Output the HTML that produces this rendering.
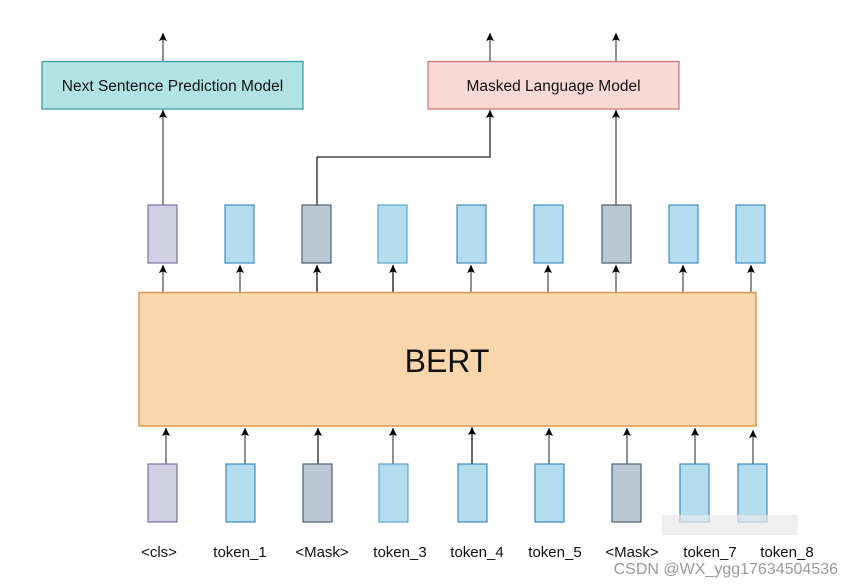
<!DOCTYPE html>
<html><head><meta charset="utf-8"><style>
html,body{margin:0;padding:0;background:#fff;}
svg{display:block;font-family:"Liberation Sans",sans-serif;}
</style></head><body>
<svg width="855" height="587" viewBox="0 0 855 587" xmlns="http://www.w3.org/2000/svg">
<defs>
<marker id="a" markerWidth="9" markerHeight="9" refX="8" refY="4" orient="auto" markerUnits="userSpaceOnUse">
<path d="M0,0 L8,4 L0,8 L1.5,4 Z" fill="#000"/>
</marker>
</defs>
<g stroke="#555" stroke-width="1.3" fill="none" marker-end="url(#a)">
<line x1="163" y1="61" x2="163" y2="33"/>
<line x1="490" y1="61" x2="490" y2="33"/>
<line x1="616" y1="61" x2="616" y2="33"/>
<line x1="163" y1="205" x2="163" y2="110"/>
<polyline points="317,205 317,157 490,157 490,110" stroke="#222"/>
<line x1="616" y1="205" x2="616" y2="110"/>
<line x1="163" y1="292" x2="163" y2="265"/>
<line x1="240" y1="292" x2="240" y2="265"/>
<line x1="317" y1="292" x2="317" y2="265" stroke="#111"/>
<line x1="393" y1="292" x2="393" y2="265" stroke="#111"/>
<line x1="471" y1="292" x2="471" y2="265"/>
<line x1="548" y1="292" x2="548" y2="265"/>
<line x1="616" y1="292" x2="616" y2="265"/>
<line x1="683" y1="292" x2="683" y2="265"/>
<line x1="751" y1="292" x2="751" y2="265"/>
<line x1="166" y1="464" x2="166" y2="428"/>
<line x1="245" y1="464" x2="245" y2="428"/>
<line x1="318" y1="464" x2="318" y2="428" stroke="#222"/>
<line x1="393" y1="464" x2="393" y2="428"/>
<line x1="472" y1="464" x2="472" y2="427" stroke="#111"/>
<line x1="549" y1="464" x2="549" y2="428"/>
<line x1="627" y1="464" x2="627" y2="428"/>
<line x1="695" y1="464" x2="695" y2="428"/>
<line x1="753" y1="464" x2="753" y2="430"/>
</g>
<rect x="42" y="61.5" width="261" height="47.5" fill="#b1e3e4" stroke="#2f9aa0" stroke-width="1.2"/>
<text x="172.5" y="91" font-size="15.5" text-anchor="middle" fill="#111">Next Sentence Prediction Model</text>
<rect x="428" y="61.5" width="251" height="47.5" fill="#f9d9d6" stroke="#d0706a" stroke-width="1.2"/>
<text x="553.5" y="91" font-size="15.5" text-anchor="middle" fill="#111">Masked Language Model</text>
<rect x="139" y="292.5" width="617" height="133.5" fill="#f9d6ab" stroke="#e09a4c" stroke-width="1.5"/>
<text x="447" y="372" font-size="32" text-anchor="middle" fill="#111">BERT</text>
<g stroke-width="1.2">
<rect x="148" y="205" width="29" height="58" fill="#d1cfe4" stroke="#7f729f"/>
<rect x="225" y="205" width="29" height="58" fill="#b3ddef" stroke="#3c8dbb"/>
<rect x="302" y="205" width="29" height="58" fill="#bbc7d3" stroke="#4b6275"/>
<rect x="378" y="205" width="29" height="58" fill="#b3ddef" stroke="#5aa3cc"/>
<rect x="457" y="205" width="29" height="58" fill="#b3ddef" stroke="#3c8dbb"/>
<rect x="534" y="205" width="29" height="58" fill="#b3ddef" stroke="#3c8dbb"/>
<rect x="602" y="205" width="29" height="58" fill="#bbc7d3" stroke="#4b6275"/>
<rect x="669" y="205" width="29" height="58" fill="#b3ddef" stroke="#3c8dbb"/>
<rect x="736" y="205" width="29" height="58" fill="#b3ddef" stroke="#3c8dbb"/>
<rect x="148" y="464" width="29" height="58" fill="#d1cfe4" stroke="#7f729f"/>
<rect x="226" y="464" width="29" height="58" fill="#b3ddef" stroke="#3c8dbb"/>
<rect x="303" y="464" width="29" height="58" fill="#bbc7d3" stroke="#4b6275"/>
<rect x="379" y="464" width="29" height="58" fill="#b3ddef" stroke="#5aa3cc"/>
<rect x="458" y="464" width="29" height="58" fill="#b3ddef" stroke="#3c8dbb"/>
<rect x="535" y="464" width="29" height="58" fill="#b3ddef" stroke="#3c8dbb"/>
<rect x="612" y="464" width="29" height="58" fill="#bbc7d3" stroke="#4b6275"/>
<rect x="680" y="464" width="29" height="58" fill="#b3ddef" stroke="#3c8dbb"/>
<rect x="738" y="464" width="29" height="58" fill="#b3ddef" stroke="#3c8dbb"/>
</g>
<rect x="662" y="515" width="136" height="20" fill="#e8e8e8" opacity="0.7"/>
<g font-size="15" text-anchor="middle" fill="#111">
<text x="159" y="557">&lt;cls&gt;</text>
<text x="240" y="557">token_1</text>
<text x="322" y="557">&lt;Mask&gt;</text>
<text x="400" y="557">token_3</text>
<text x="477" y="557">token_4</text>
<text x="555" y="557">token_5</text>
<text x="632" y="557">&lt;Mask&gt;</text>
<text x="710" y="557">token_7</text>
<text x="787" y="557">token_8</text>
</g>
<text x="838" y="574" font-size="16" text-anchor="end" fill="#9a9a9a">CSDN @WX_ygg17634504536</text>
</svg>
</body></html>
